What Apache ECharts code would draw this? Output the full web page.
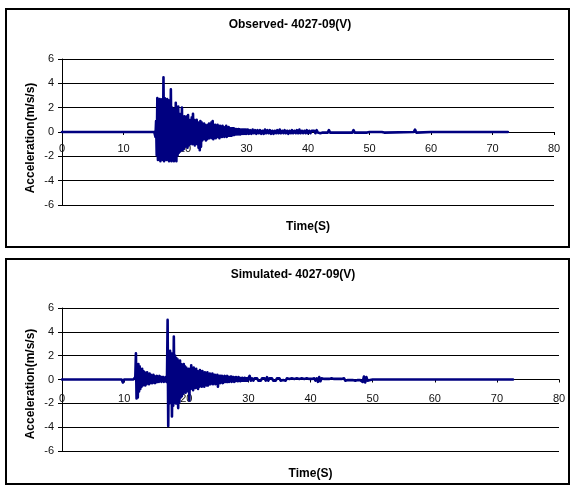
<!DOCTYPE html>
<html>
<head>
<meta charset="utf-8">
<script src="https://cdn.jsdelivr.net/npm/echarts@6/dist/echarts.min.js"></script>
<style>
  html, body { margin: 0; padding: 0; background: #fff; }
  #chart { width: 572px; height: 487px; }
</style>
</head>
<body>
<div id="chart"></div>
<script>
// Axis ranges / tick labels (m/s/s vs seconds)
const timeTicks = [0, 10, 20, 30, 40, 50, 60, 70, 80];
const accelTicks = [-6, -4, -2, 0, 2, 4, 6];

// ---------- Observed record ----------
// quiet lead-in before the arrival
const obsLeadT = [0];
const obsLeadV = [0];
// strong-motion part, 0.1 s samples from 15.0 s to 30.0 s
const obsBurstStart = 15.0, obsBurstStep = 0.1;
const obsBurst = [
  0, 0.05, -0.4, 0.9, -1.9, 2.8, -2.3, 2.5, -2.1, 2.7,
  -2.4, 2.6, -2.0, 2.7, -2.3, 4.5, -2.4, 2.8, -2.2, 2.5,
  -2.3, 2.7, -1.9, 2.6, -2.4, 2.2, -2.1, 3.5, -2.4, 2.0,
  -2.2, 1.8, -2.4, 1.9, -2.0, 2.4, -2.4, 1.6, -1.9, 2.1,
  -1.7, 1.5, -1.6, 1.4, -1.3, 2.0, -1.5, 1.2, -1.4, 1.3,
  -1.2, 1.1, -1.0, 1.3, -1.3, 1.4, -1.1, 0.9, -1.0, 1.0,
  -0.9, 1.2, -1.0, 1.5, -0.8, 1.0, -1.1, 0.8, -0.9, 1.0,
  -1.0, 0.8, -1.3, 0.7, -1.5, 0.9, -1.2, 0.8, -0.7, 0.6,
  -0.6, 0.7, -0.5, 0.6, -0.7, 0.5, -0.6, 0.6, -0.5, 0.7,
  -0.5, 0.6, -0.4, 0.8, -0.5, 0.9, -0.6, 0.5, -0.4, 0.6,
  -0.5, 0.5, -0.4, 0.6, -0.4, 0.4, -0.5, 0.5, -0.3, 0.4,
  -0.4, 0.5, -0.3, 0.4, -0.4, 0.3, -0.3, 0.5, -0.4, 0.3,
  -0.3, 0.4, -0.3, 0.3, -0.3, 0.3, -0.3, 0.3, -0.25, 0.3,
  -0.25, 0.25, -0.2, 0.25, -0.2, 0.2, -0.2, 0.25, -0.2, 0.2,
  -0.2, 0.2, -0.15, 0.2, -0.15, 0.2, -0.15, 0.2, -0.15, 0.2,
  -0.15
];
// coda, 0.2 s samples from 30.2 s to 50.0 s
const obsCodaStart = 30.2, obsCodaStep = 0.2;
const obsCoda = [
  0.2, -0.15, 0.15, -0.15, 0.2, -0.1, 0.15, -0.15, 0.15, -0.1,
  0.15, -0.15, 0.1, -0.15, 0.2, -0.1, 0.15, -0.1, 0.15, -0.15,
  0.1, -0.15, 0.1, -0.1, 0.15, -0.1, 0.2, -0.1, 0.1, -0.1,
  0.15, -0.1, 0.1, -0.15, 0.1, -0.1, 0.15, -0.1, 0.1, -0.1,
  0.15, -0.1, 0.2, -0.1, 0.1, -0.1, 0.1, -0.1, 0.15, -0.1,
  0.1, -0.1, 0.1, -0.05, 0.1, -0.1, 0.15, -0.05, 0.1, -0.1,
  0.05, -0.05, 0.1, -0.05, 0.05, -0.05, 0.15, -0.05, 0.05, -0.05,
  0.05, -0.05, 0.05, -0.05, 0.1, -0.05, 0.05, -0.05, 0.05, -0.05,
  0.05, -0.05, 0.05, -0.05, 0.05, -0.05, 0.15, -0.05, 0.05, -0.05,
  0.05, -0.05, 0.1, -0.05, 0.05, -0.05, 0.05, -0.05, 0.05, 0
];
// end of record
const obsTailT = [50.4, 52.0, 52.2, 52.4, 57.2, 57.4, 57.6, 60.0, 70.0, 70.2, 70.4, 72.5];
const obsTailV = [0, 0, 0.12, -0.05, 0, 0.2, -0.05, 0, 0, -0.08, 0, 0];

// ---------- Simulated record ----------
const simLeadT = [0, 9.6, 9.8, 10.0];
const simLeadV = [0, 0, -0.25, 0];
// 0.1 s samples from 11.5 s to 30.0 s
const simBurstStart = 11.5, simBurstStep = 0.1;
const simBurst = [
  0, 0.05, -0.1, 0.2, 2.2, -1.6, 1.0, -1.5, 1.3, -1.0,
  1.1, -0.8, 0.8, -0.6, 0.9, -0.5, 0.7, -0.4, 0.6, -0.5,
  0.5, -0.4, 0.6, -0.3, 0.4, -0.4, 0.5, -0.3, 0.4, -0.3,
  0.3, -0.3, 0.4, -0.2, 0.3, -0.3, 0.2, -0.2, 0.3, -0.2,
  0.2, -0.2, 0.3, -0.1, 0.2, -0.2, 0.2, -0.1, 0.2, -0.2,
  0.1, -0.1, 0.2, -0.2, 0.1, 5.0, -3.9, 2.3, -2.0, 2.4,
  -1.8, 2.2, -3.1, 1.9, -2.2, 3.6, -1.6, 2.0, -2.0, 1.8,
  -2.0, 1.7, -2.4, 1.5, -1.9, 1.6, -1.5, 1.3, -1.4, 1.2,
  -1.2, 1.3, -1.0, 1.1, -1.1, 1.0, -0.9, 0.8, -1.0, 0.9,
  -1.75, 0.9, -0.8, 1.2, -0.7, 0.8, -0.9, 1.0, -0.7, 0.8,
  -0.7, 0.9, -0.6, 0.7, -0.8, 0.6, -0.6, 0.8, -0.5, 0.6,
  -0.6, 0.7, -0.5, 0.5, -0.6, 0.6, -0.4, 0.5, -0.5, 0.6,
  -0.5, 0.4, -0.4, 0.5, -0.4, 0.4, -0.3, 0.5, -0.4, 0.4,
  -0.3, 0.4, -0.4, 0.3, -0.3, 0.4, -0.6, 0.3, -0.3, 0.3,
  -0.3, 0.3, -0.2, 0.3, -0.3, 0.2, -0.2, 0.3, -0.2, 0.2,
  -0.2, 0.3, -0.2, 0.2, -0.2, 0.2, -0.15, 0.25, -0.2, 0.2,
  -0.15, 0.2, -0.2, 0.15, -0.15, 0.2, -0.1, 0.15, -0.15, 0.2,
  -0.1, 0.15, -0.15, 0.1, -0.1, 0.15, -0.1, 0.1, -0.1, 0.15,
  -0.1, 0.1, -0.1, 0.1, -0.1, 0.1
];
// 0.2 s samples from 30.2 s to 50.0 s
const simCodaStart = 30.2, simCodaStep = 0.2;
const simCoda = [
  0.3, -0.1, 0.1, -0.1, 0.1, -0.05, 0.1, -0.1, 0.05, -0.1,
  0.1, -0.05, 0.1, -0.1, 0.2, -0.1, 0.1, -0.05, 0.1, -0.1,
  0.05, -0.1, 0.1, -0.05, 0.1, -0.1, 0.05, -0.05, 0.1, -0.1,
  0.1, -0.05, 0.05, -0.1, 0.1, -0.05, 0.05, -0.05, 0.1, -0.05,
  0.05, -0.05, 0.1, -0.05, 0.05, -0.1, 0.1, -0.05, 0.05, -0.05,
  0.05, -0.05, 0.1, -0.1, 0.1, -0.2, 0.2, -0.15, 0.1, -0.05,
  0.05, -0.05, 0.05, -0.1, 0.05, -0.05, 0.1, -0.05, 0.05, -0.05,
  0.05, -0.1, 0.05, -0.05, 0.05, -0.05, 0.1, -0.1, 0.05, -0.05,
  0.05, -0.05, 0.1, -0.05, 0.05, -0.1, 0.05, -0.05, 0.1, -0.05,
  0.1, -0.2, 0.25, -0.25, 0.2, -0.1, 0.05, -0.05, 0, 0
];
const simTailT = [72.6];
const simTailV = [0];

// Join the lead-in, sampled sections and tail into [time, accel] pairs
function pairs(ts, vs) {
  return ts.map((t, i) => [t, vs[i]]);
}
function sampled(start, step, vs) {
  return vs.map((v, i) => [+(start + i * step).toFixed(2), v]);
}
const observed = [].concat(
  pairs(obsLeadT, obsLeadV),
  sampled(obsBurstStart, obsBurstStep, obsBurst),
  sampled(obsCodaStart, obsCodaStep, obsCoda),
  pairs(obsTailT, obsTailV)
);
const simulated = [].concat(
  pairs(simLeadT, simLeadV),
  sampled(simBurstStart, simBurstStep, simBurst),
  sampled(simCodaStart, simCodaStep, simCoda),
  pairs(simTailT, simTailV)
);

const FONT = '"Liberation Sans", Arial, sans-serif';
const INK = '#000000';
const TRACE = '#000080';

// Panel geometry (pixels)
const panels = [
  { left: 62, top: 59, width: 492, height: 146, labelMargin: 11, nameGap: 89,
    frame: { x: 6, y: 9, width: 563, height: 238 },
    title: 'Observed- 4027-09(V)', titleX: 290, titleY: 25, yNameX: 31, yNameY: 138 },
  { left: 62, top: 308, width: 497, height: 143, labelMargin: 14, nameGap: 88,
    frame: { x: 6, y: 259, width: 563, height: 225 },
    title: 'Simulated- 4027-09(V)', titleX: 293, titleY: 275, yNameX: 31, yNameY: 384 }
];

// The time axis sits on the zero line, half-way up the plot area
function xAxisFor(i) {
  const p = panels[i];
  return {
    gridIndex: i,
    type: 'value',
    position: 'bottom',
    offset: -p.height / 2,
    min: timeTicks[0],
    max: timeTicks[timeTicks.length - 1],
    interval: timeTicks[1] - timeTicks[0],
    axisLine: { show: true, onZero: false, lineStyle: { color: INK, width: 1 } },
    axisTick: { show: true, inside: false, length: 3, lineStyle: { color: INK, width: 1 } },
    axisLabel: { margin: p.labelMargin, fontSize: 11, color: '#111', fontFamily: FONT },
    splitLine: { show: false },
    name: 'Time(S)',
    nameLocation: 'middle',
    nameGap: p.nameGap,
    nameTextStyle: { fontSize: 12, fontWeight: 'bold', color: INK, fontFamily: FONT }
  };
}
function yAxisFor(i) {
  return {
    gridIndex: i,
    type: 'value',
    min: accelTicks[0],
    max: accelTicks[accelTicks.length - 1],
    interval: accelTicks[1] - accelTicks[0],
    axisLine: { show: true, onZero: false, lineStyle: { color: INK, width: 1 } },
    axisTick: { show: true, inside: false, length: 4, lineStyle: { color: INK, width: 1 } },
    axisLabel: { margin: 8, fontSize: 11, color: '#111', fontFamily: FONT },
    splitLine: { show: true, lineStyle: { color: INK, width: 1 } }
  };
}
function trace(name, data, idx) {
  return {
    name, type: 'line', data,
    xAxisIndex: idx, yAxisIndex: idx,
    showSymbol: false, symbol: 'none',
    sampling: null,
    lineStyle: { color: TRACE, width: 2.6, join: 'round', cap: 'round' },
    animation: false
  };
}

const graphics = [];
panels.forEach(p => {
  graphics.push({ type: 'rect', shape: p.frame, z: 10,
    style: { fill: 'none', stroke: INK, lineWidth: 2 } });
  graphics.push({ type: 'text', x: p.titleX, y: p.titleY,
    style: { text: p.title, font: 'bold 12px ' + FONT, fill: INK,
             align: 'center', verticalAlign: 'middle', textAlign: 'center', textVerticalAlign: 'middle' } });
  graphics.push({ type: 'text', x: p.yNameX, y: p.yNameY, rotation: Math.PI / 2,
    style: { text: 'Acceleration(m/s/s)', font: 'bold 12px ' + FONT, fill: INK,
             align: 'center', verticalAlign: 'middle', textAlign: 'center', textVerticalAlign: 'middle' } });
});

const chart = echarts.init(document.getElementById('chart'), null, { renderer: 'canvas' });
chart.setOption({
  backgroundColor: '#ffffff',
  animation: false,
  grid: panels.map(p => ({
    left: p.left, top: p.top, width: p.width, height: p.height,
    containLabel: false, outerBoundsMode: 'none'
  })),
  xAxis: [xAxisFor(0), xAxisFor(1)],
  yAxis: [yAxisFor(0), yAxisFor(1)],
  series: [trace('Observed', observed, 0), trace('Simulated', simulated, 1)],
  graphic: graphics
});
</script>
</body>
</html>
